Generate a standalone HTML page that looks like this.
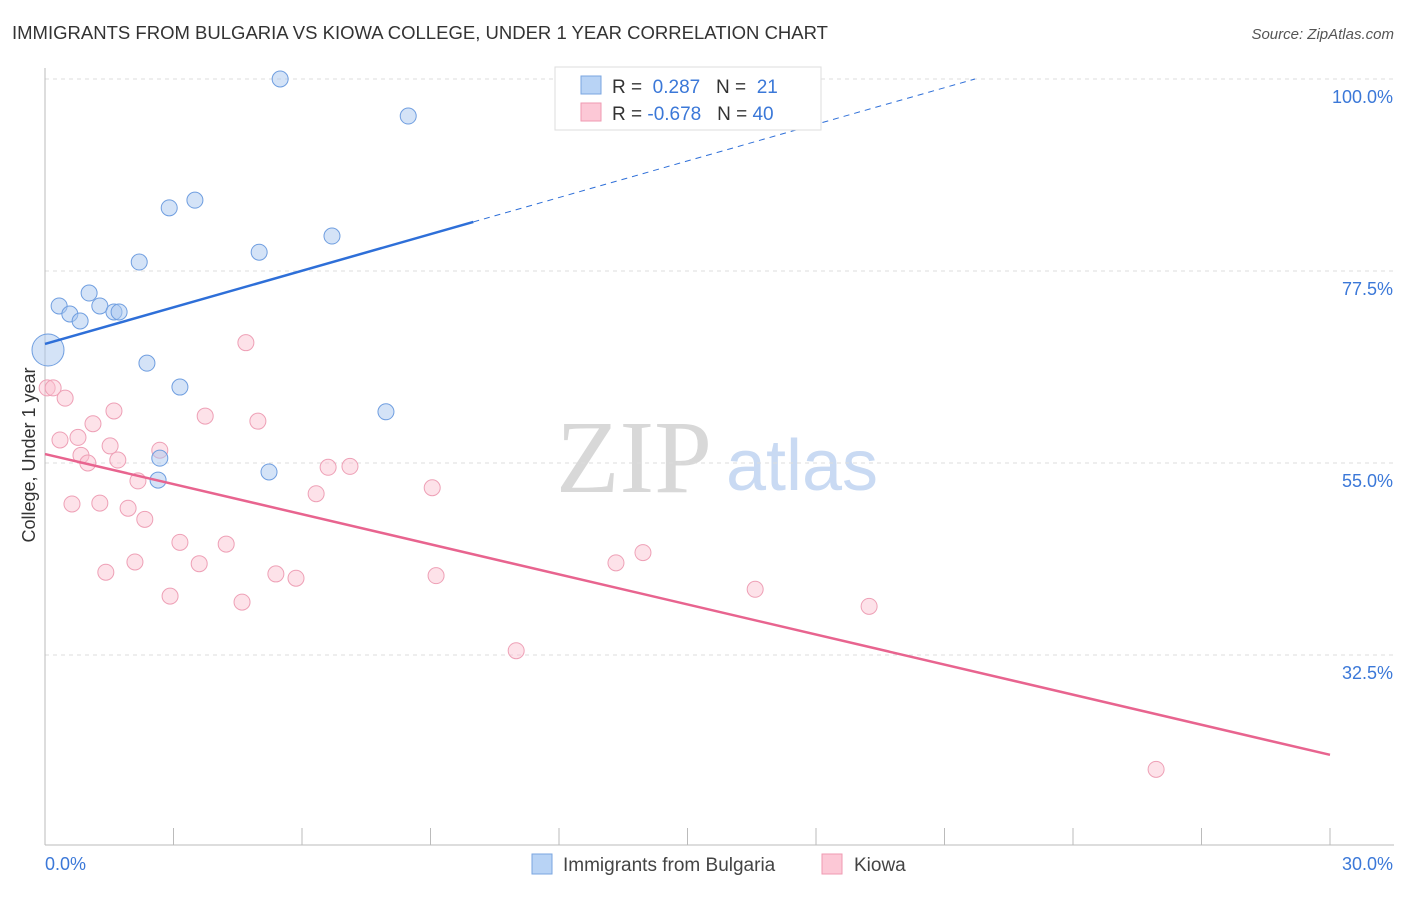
<!DOCTYPE html>
<html><head><meta charset="utf-8"><style>
body{margin:0;background:#fff;font-family:"Liberation Sans",sans-serif;}
svg text{font-family:"Liberation Sans",sans-serif;}
</style></head><body>
<svg width="1406" height="892" xmlns="http://www.w3.org/2000/svg" id="chart">
<text x="12" y="39" font-size="18" fill="#333" textLength="816" lengthAdjust="spacingAndGlyphs">IMMIGRANTS FROM BULGARIA VS KIOWA COLLEGE, UNDER 1 YEAR CORRELATION CHART</text>
<text x="1394" y="39" font-size="15" fill="#555" font-style="italic" text-anchor="end">Source: ZipAtlas.com</text>
<g>
<text x="634" y="492" font-size="104" fill="#d8d8d8" font-family="Liberation Serif" text-anchor="middle" style="font-family:'Liberation Serif',serif">ZIP</text>
<text x="802" y="490" font-size="72" fill="#c9daf3" text-anchor="middle">atlas</text>
</g>
<g id="grid"></g>
<g id="axes"></g>
<g id="marks"></g>
<text x="35" y="455" font-size="18" fill="#333" text-anchor="middle" transform="rotate(-90 35 455)">College, Under 1 year</text>
<g>
<rect x="555" y="67" width="266" height="63" fill="#fff" stroke="#ddd"/>
<rect x="581" y="76" width="20" height="18" fill="#b8d3f5" stroke="#7aa6e0"/>
<rect x="581" y="103" width="20" height="18" fill="#fcc8d6" stroke="#ef9ab2"/>
<text x="612" y="93" font-size="19" fill="#333">R = <tspan fill="#3b78d8">&#160;0.287</tspan>&#160;&#160;&#160;N = <tspan fill="#3b78d8">&#160;21</tspan></text>
<text x="612" y="120" font-size="19" fill="#333">R = <tspan fill="#3b78d8">-0.678</tspan>&#160;&#160;&#160;N = <tspan fill="#3b78d8">40</tspan></text>
</g>
<g>
<rect x="532" y="854" width="20" height="20" fill="#b8d3f5" stroke="#7aa6e0"/>
<text x="563" y="871" font-size="19" fill="#444">Immigrants from Bulgaria</text>
<rect x="822" y="854" width="20" height="20" fill="#fcc8d6" stroke="#ef9ab2"/>
<text x="854" y="871" font-size="19" fill="#444">Kiowa</text>
</g>
</svg>
<script>
const yTicks=[100,77.5,55,32.5];
const yTickLabels=["100.0%","77.5%","55.0%","32.5%"];
const blueX=[0.07,0.33,0.58,0.82,1.03,1.28,1.61,1.73,2.2,2.38,2.68,2.64,2.9,3.15,3.5,5.0,5.23,5.49,6.7,7.96,8.48];
const blueY=[68.24,73.4,72.46,71.64,74.92,73.4,72.7,72.7,78.55,66.7,55.57,53.0,84.9,63.9,85.8,79.7,53.95,100,81.6,61.0,95.66];
const pinkX=[0.05,0.19,0.47,0.35,0.63,0.77,0.84,1.0,1.12,1.28,1.42,1.52,1.61,1.7,1.94,2.1,2.17,2.33,2.68,2.92,3.15,3.6,3.74,4.23,4.6,4.69,4.97,5.39,5.86,6.33,6.61,7.12,9.04,9.13,11.0,13.33,13.96,16.58,19.24,25.94];
const pinkY=[63.8,63.8,62.6,57.7,50.2,58.0,55.9,55.0,59.6,50.3,42.2,57.0,61.1,55.35,49.7,43.4,52.9,48.4,56.5,39.4,45.7,43.2,60.5,45.5,38.7,69.1,59.9,42.0,41.5,51.4,54.5,54.6,52.1,41.8,33.0,43.3,44.5,40.2,38.2,19.1];
const blueLine=[68.95,1.43];
const pinkLine=[56.05,-1.175];
const NS="http://www.w3.org/2000/svg";
const X=v=>45+v*1285/30, Y=v=>79+(100-v)*192/22.5;
function mk(t,a,p){const e=document.createElementNS(NS,t);for(const k in a)e.setAttribute(k,a[k]);p.appendChild(e);return e;}
const grid=document.getElementById('grid'),axes=document.getElementById('axes'),marks=document.getElementById('marks');
yTicks.forEach((t,i)=>{
 const l=mk('line',{x1:45,x2:1394,y1:Y(t),y2:Y(t),stroke:'#ddd','stroke-dasharray':'4,4'},grid);
 
 
 const tx=mk('text',{x:1393,y:Y(t)+24,'font-size':18,fill:'#3b78d8','text-anchor':'end'},axes);
 tx.textContent=yTickLabels[i];
 
 
});
mk('line',{x1:45,x2:45,y1:68,y2:845,stroke:'#bbb'},axes);
mk('line',{x1:45,x2:1394,y1:845,y2:845,stroke:'#bbb'},axes);
for(let i=0;i<=10;i++){const t=mk('line',{x1:X(i*3),x2:X(i*3),y1:828,y2:845,stroke:'#bbb'},axes);
 
 }
const x0=mk('text',{x:45,y:870,'font-size':18,fill:'#3b78d8'},axes);x0.textContent='0.0%';


const x1=mk('text',{x:1393,y:870,'font-size':18,fill:'#3b78d8','text-anchor':'end'},axes);x1.textContent='30.0%';


pinkX.forEach((x,i)=>{const c=mk('circle',{cx:X(x),cy:Y(pinkY[i]),r:8,fill:'rgba(250,190,206,0.45)',stroke:'#eea0b6','stroke-width':1},marks);
 
 });
blueX.forEach((x,i)=>{const c=mk('circle',{cx:X(x),cy:Y(blueY[i]),r:i==0?16:8,fill:'rgba(170,200,240,0.5)',stroke:'#6f9ee0','stroke-width':1},marks);
 
 });
const bEnd=(100-blueLine[0])/blueLine[1];
const bl=mk('line',{x1:X(0),y1:Y(blueLine[0]),x2:X(10),y2:Y(blueLine[0]+blueLine[1]*10),stroke:'#2e6fd8','stroke-width':2.5},marks);


const bd=mk('line',{x1:X(10),y1:Y(blueLine[0]+blueLine[1]*10),x2:X(bEnd),y2:Y(100),stroke:'#2e6fd8','stroke-width':1,'stroke-dasharray':'6,5'},marks);


const pl=mk('line',{x1:X(0),y1:Y(pinkLine[0]),x2:X(30),y2:Y(pinkLine[0]+pinkLine[1]*30),stroke:'#e8648f','stroke-width':2.5},marks);


</script>
</body></html>
